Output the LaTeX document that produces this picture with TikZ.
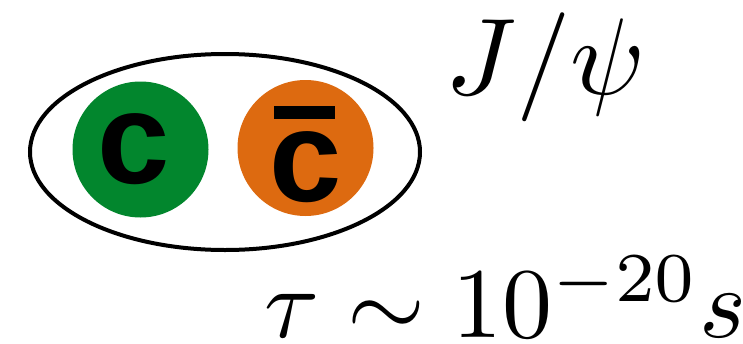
\documentclass[tikz,border=0pt]{standalone}
\usepackage{graphicx}
\usepackage{fontspec}
\newfontfamily\quarkfont{Liberation Sans}
\definecolor{qgreen}{RGB}{2,134,45}
\definecolor{qorange}{RGB}{221,106,16}
\begin{document}
\begin{tikzpicture}[x=1pt,y=-1pt,
  quark/.style={circle,inner sep=0pt,minimum size=136pt},
  qlabel/.style={inner sep=0pt,font=\quarkfont\bfseries\fontsize{130}{130}\selectfont},
  mathlabel/.style={inner sep=0pt,anchor=base west}]
\useasboundingbox (0,0) rectangle (743,343);
\draw[line width=4pt] (225,152) ellipse [x radius=195, y radius=98];
\node[quark,fill=qgreen] (cq) at (140.5,149.5) {};
\node[quark,fill=qorange] (cbar) at (305.5,148) {};
\node[qlabel] (cl) at (133.5,149) {c};
\node[qlabel] (cbl) at (306,167.5) {c};
\fill (274,106) rectangle (335,119);
\node[mathlabel] (jpsi) at (445,94.5) {\scalebox{10.9}{$J/\psi$}};
\node[mathlabel] (tau) at (264,337.5) {\scalebox{10}{$\tau\sim10^{-20}s$}};
\end{tikzpicture}
\end{document}
